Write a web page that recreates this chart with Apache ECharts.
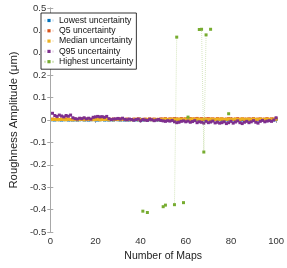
<!DOCTYPE html>
<html><head><meta charset="utf-8">
<script src="https://cdn.jsdelivr.net/npm/echarts@6/dist/echarts.min.js"></script>
<style>html,body{margin:0;padding:0;background:#fff}#c{width:287px;height:268px}</style>
</head><body><div id="c"></div>
<script>
const seriesNames = ['Lowest uncertainty','Q5 uncertainty','Median uncertainty','Q95 uncertainty','Highest uncertainty'];
const colors = ['#0072BD','#D95319','#EDB120','#7E2F8E','#77AC30'];
const xTicks = [0,20,40,60,80,100];
const yTicks = [0.5,0.4,0.3,0.2,0.1,0,-0.1,-0.2,-0.3,-0.4,-0.5];

const lowest = [0.001,0.000,0.002,0.001,0.000,0.001,0.002,0.000,0.001,0.000,
 0.001,0.000,0.001,0.002,0.000,0.001,0.000,0.001,0.002,0.001,
 0.000,0.001,0.002,0.000,0.001,0.000,0.001,0.000,0.002,0.001,
 0.000,0.001,0.000,0.001,0.000,0.002,0.000,0.001,0.000,0.001,
 0.000,0.001,0.000,0.001,0.002,0.000,0.001,0.000,0.001,0.000,
 0.001,0.000,0.002,0.001,0.000,0.001,0.000,0.001,0.000,0.002,
 0.001,0.000,0.001,0.000,0.001,0.002,0.000,0.001,0.000,0.001,
 0.000,0.001,0.002,0.000,0.001,0.000,0.001,0.000,0.001,0.002,
 0.000,0.001,0.000,0.001,0.000,0.001,0.002,0.000,0.001,0.000,
 0.001,0.000,0.001,0.002,0.000,0.001,0.000,0.001,0.000,0.002];
const q5 = [0.004,0.003,0.005,0.002,0.004,0.003,0.005,0.004,0.002,0.003,
 0.004,0.002,0.003,0.005,0.003,0.004,0.002,0.003,0.004,0.005,
 0.003,0.002,0.004,0.003,0.005,0.002,0.003,0.004,0.002,0.003,
 0.005,0.003,0.002,0.004,0.003,0.002,0.004,0.003,0.005,0.002,
 0.003,0.004,0.002,0.005,0.003,0.004,0.002,0.003,0.005,0.004,
 0.006,0.003,0.005,0.004,0.006,0.005,0.003,0.006,0.004,0.005,
 0.003,0.006,0.004,0.005,0.007,0.004,0.006,0.003,0.005,0.006,
 0.004,0.005,0.003,0.006,0.004,0.005,0.003,0.004,0.006,0.005,
 0.003,0.004,0.006,0.003,0.005,0.004,0.003,0.005,0.004,0.006,
 0.003,0.004,0.005,0.003,0.004,0.006,0.003,0.005,0.004,0.006];
const median = [0.002,0.003,0.001,0.002,0.003,0.002,0.001,0.003,0.002,0.001,
 0.002,0.001,0.002,0.003,0.001,0.002,0.003,0.002,0.001,0.002,
 0.003,0.001,0.002,0.002,0.003,0.001,0.002,0.001,0.003,0.002,
 0.001,0.002,0.003,0.001,0.002,0.001,0.002,0.003,0.001,0.002,
 0.002,0.001,0.003,0.002,0.001,0.002,0.003,0.001,0.002,0.003,
 0.004,0.002,0.003,0.004,0.002,0.003,0.004,0.002,0.003,0.004,
 0.002,0.003,0.005,0.002,0.004,0.003,0.002,0.004,0.003,0.002,
 0.004,0.003,0.002,0.004,0.003,0.005,0.002,0.003,0.004,0.002,
 0.003,0.004,0.002,0.003,0.005,0.002,0.004,0.003,0.002,0.004,
 0.003,0.002,0.004,0.003,0.002,0.004,0.003,0.002,0.004,0.003];
const q95 = [0.030,0.020,0.016,0.022,0.018,0.014,0.020,0.017,0.022,0.010,
 0.006,0.004,0.008,0.006,0.010,0.005,0.008,0.004,0.012,0.014,
 0.016,0.014,0.015,0.012,0.016,0.006,0.002,0.004,0.005,0.007,
 0.004,0.008,0.003,0.001,0.004,0.002,-0.001,0.002,0.004,-0.003,
 0.002,0.000,-0.002,0.003,0.001,-0.003,0.000,0.002,-0.002,-0.004,
 -0.006,-0.003,-0.005,-0.002,-0.008,-0.012,-0.010,-0.006,-0.004,-0.008,
 -0.005,-0.010,-0.007,-0.003,-0.012,-0.008,-0.010,-0.014,-0.006,-0.012,
 -0.009,-0.005,-0.013,-0.010,-0.014,-0.012,-0.008,-0.016,-0.012,-0.006,
 -0.014,-0.009,-0.004,-0.012,-0.016,-0.010,-0.006,-0.012,-0.008,-0.003,
 -0.010,-0.014,-0.006,-0.002,-0.008,-0.005,-0.003,-0.006,0.000,0.010];
// Highest uncertainty: only defined maps (others missing)
const highestX = [41,43,50,51,55,56,59,61,66,67,68,69,71,79];
const highestY = [-0.407,-0.413,-0.387,-0.380,-0.378,0.370,-0.369,0.013,0.404,0.405,-0.143,0.380,0.405,0.028];

const maps = lowest.map((_, i) => i + 1);
const toPairs = arr => arr.map((v, i) => [maps[i], v]);
const highestFull = maps.map(m => { const k = highestX.indexOf(m); return [m, k >= 0 ? highestY[k] : null]; });
const allData = [toPairs(lowest), toPairs(q5), toPairs(median), toPairs(q95), highestFull];

const chart = echarts.init(document.getElementById('c'), null, {renderer:'canvas'});
const font = 'Liberation Sans, Arial, sans-serif';
const axisCol = '#a8a8a8';
const fmt = v => { const r = Math.round(v*10)/10; return r === 0 ? '0' : String(r); };

chart.setOption({
  animation: false,
  backgroundColor: '#fff',
  grid: {left: 39, right: 10, top: 8, bottom: 36, containLabel: false},
  legend: {
    orient: 'vertical', left: 41, top: 13,
    data: seriesNames,
    itemWidth: 10, itemHeight: 4, itemGap: 1.3,
    padding: [3, 3, 3, 2],
    borderColor: '#000', borderWidth: 0.8, backgroundColor: '#fff',
    textStyle: {fontFamily: font, fontSize: 8.7, color: '#111', lineHeight: 9}
  },
  xAxis: [{
    type: 'value', min: xTicks[0], max: xTicks[xTicks.length-1], interval: 20,
    name: 'Number of Maps', nameLocation: 'middle', nameGap: 18,
    nameTextStyle: {fontFamily: font, fontSize: 10.5, color: '#222'},
    axisLine: {lineStyle: {color: axisCol, width: 1}},
    axisTick: {inside: true, length: 3, lineStyle: {color: axisCol}},
    axisLabel: {fontFamily: font, fontSize: 9.5, color: '#333', margin: 4},
    splitLine: {show: false}
  },{
    type: 'value', position: 'top', min: 0, max: 100, interval: 20,
    axisLine: {lineStyle: {color: axisCol, width: 1}},
    axisTick: {inside: true, length: 3, lineStyle: {color: axisCol}},
    axisLabel: {show: false}, splitLine: {show: false}
  }],
  yAxis: [{
    type: 'value', min: yTicks[yTicks.length-1], max: yTicks[0], interval: 0.1,
    name: 'Roughness Amplitude (μm)', nameLocation: 'middle', nameGap: 26, nameRotate: 90,
    nameTextStyle: {fontFamily: font, fontSize: 11.3, color: '#222'},
    axisLine: {lineStyle: {color: axisCol, width: 1}},
    axisTick: {inside: true, length: 3, lineStyle: {color: axisCol}},
    axisLabel: {fontFamily: font, fontSize: 9.5, color: '#333', margin: 4, formatter: fmt},
    splitLine: {show: false}
  },{
    type: 'value', position: 'right', min: -0.5, max: 0.5, interval: 0.1,
    axisLine: {lineStyle: {color: axisCol, width: 1}},
    axisTick: {inside: true, length: 3, lineStyle: {color: axisCol}},
    axisLabel: {show: false}, splitLine: {show: false}
  }],
  series: seriesNames.map((name, i) => ({
    name, type: 'line', data: allData[i],
    connectNulls: false,
    symbol: 'rect', symbolSize: 3, showSymbol: true,
    itemStyle: {color: colors[i]},
    lineStyle: {color: colors[i], width: 1, type: 'dotted', opacity: i === 4 ? 0.3 : 0.15},
    z: 2 + i
  }))
});
</script></body></html>
